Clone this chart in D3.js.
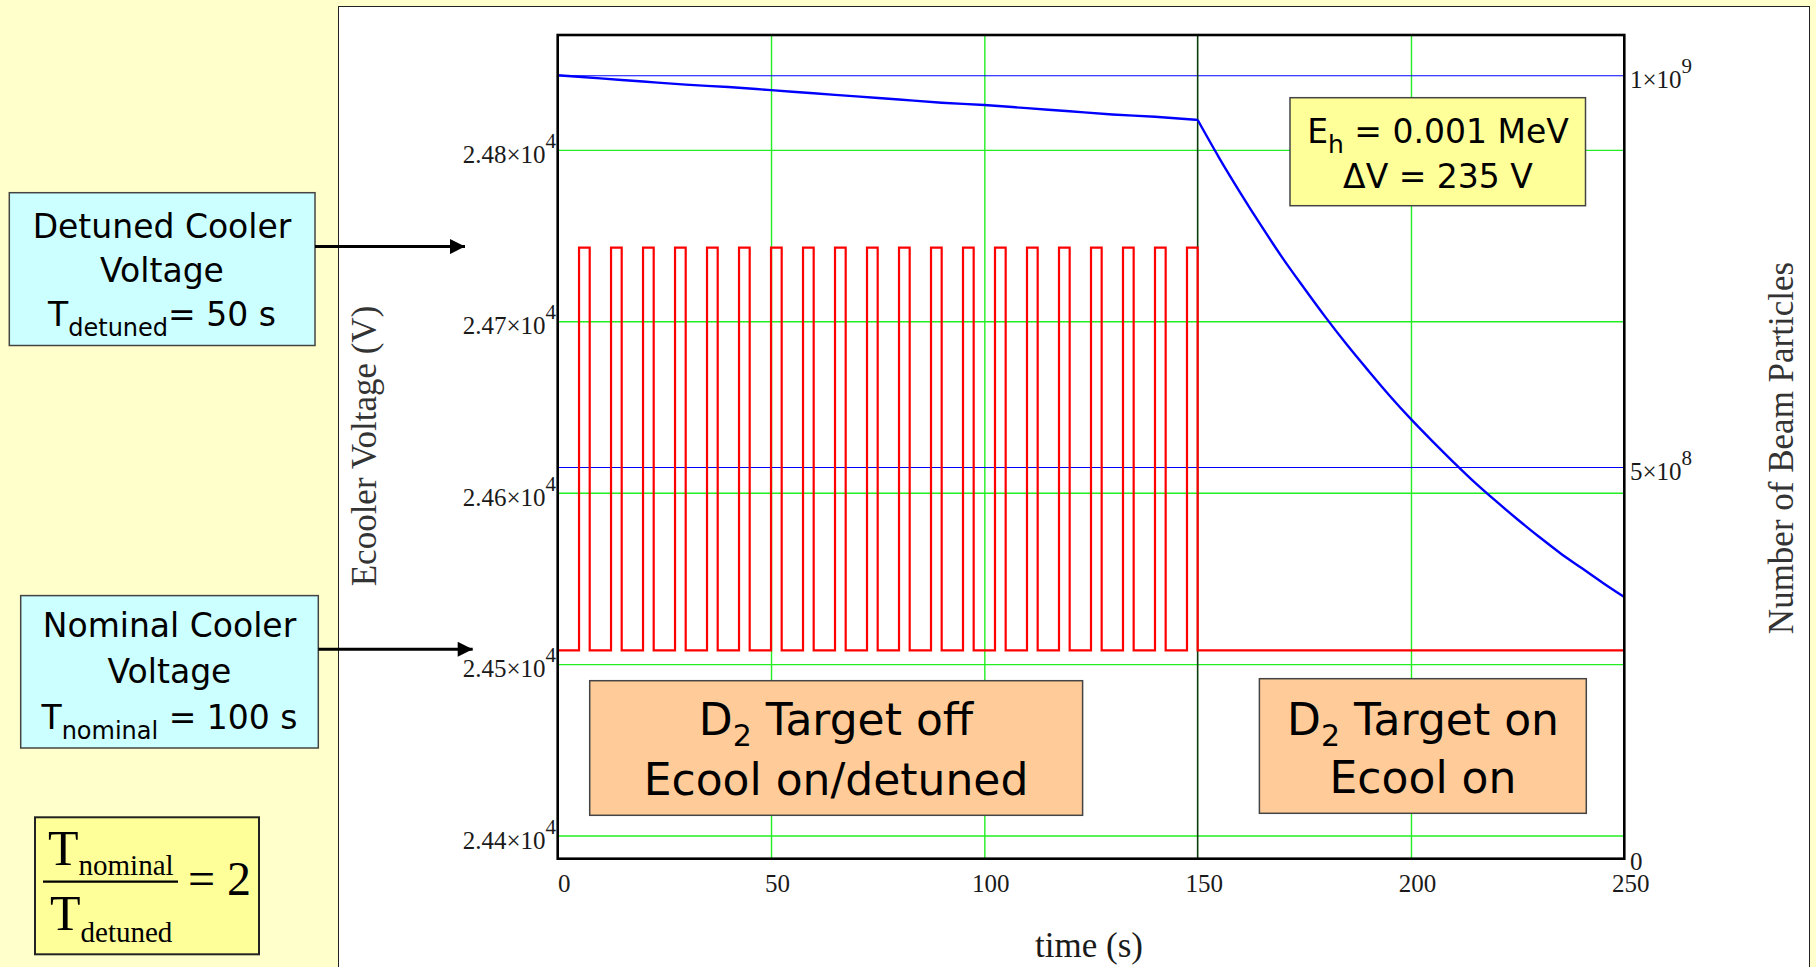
<!DOCTYPE html>
<html>
<head>
<meta charset="utf-8">
<script src="https://cdn.jsdelivr.net/npm/d3@7"></script>
<style>
  body { margin: 0; background: #ffffcc; }
  svg { display: block; }
  .serif { font-family: "Liberation Serif", "Times New Roman", serif; fill: #1a1a1a; }
  .comic { font-family: "Comic Sans MS", "DejaVu Sans", sans-serif; fill: #000; }
</style>
</head>
<body>
<svg id="chart" width="1816" height="967"></svg>
<script>
// ---- data ----
const timeTicks = [0, 50, 100, 150, 200, 250];          // s
const voltTicks = [24400, 24500, 24600, 24700, 24800];  // V
const beamTicks = [0, 5e8, 1e9];
const beamTickMant = ["0", "5×10", "1×10"];
const beamTickExp = ["", "8", "9"];

const vNominal = 24508;   // nominal cooler voltage
const vDetuned = 24743;   // detuned cooler voltage (dV = 235 V)
const targetOnTime = 150; // D2 target switched on

// detuned windows (s)
const pulseStart = [5, 12.5, 20, 27.5, 35, 42.5, 50, 57.5, 65, 72.5, 80, 87.5, 95, 102.5, 110, 117.5, 125, 132.5, 140, 147.5];
const pulseEnd = [7.5, 15, 22.5, 30, 37.5, 45, 52.5, 60, 67.5, 75, 82.5, 90, 97.5, 105, 112.5, 120, 127.5, 135, 142.5, 150];

// number of beam particles
const beamTime = [0, 10, 20, 30, 40, 50, 60, 70, 80, 90, 100, 110, 120, 130, 140, 150,
                  155, 160, 165, 170, 175, 180, 185, 190, 195, 200, 205, 210, 215, 220, 225, 230, 235, 240, 245, 250];
const beamCount = [1.000e9, 0.996e9, 0.992e9, 0.988e9, 0.985e9, 0.981e9, 0.977e9, 0.973e9, 0.969e9, 0.965e9,
                   0.962e9, 0.958e9, 0.954e9, 0.950e9, 0.947e9, 0.943e9,
                   0.895e9, 0.850e9, 0.807e9, 0.766e9, 0.728e9, 0.691e9, 0.656e9, 0.623e9, 0.591e9, 0.561e9,
                   0.533e9, 0.506e9, 0.480e9, 0.456e9, 0.433e9, 0.411e9, 0.390e9, 0.371e9, 0.352e9, 0.334e9];

// ---- layout ----
const svg = d3.select("#chart");
const plot = {left: 557.7, right: 1624.3, top: 35, bottom: 858.7};

const x = d3.scaleLinear().domain([0, 250]).range([plot.left, plot.right]);
const yV = d3.scaleLinear().domain([24386.5, 24867]).range([plot.bottom, plot.top]);
const yN = d3.scaleLinear().domain([0, 1.0514e9]).range([plot.bottom, plot.top]);

// white chart panel
svg.append("rect")
    .attr("x", 338.5).attr("y", 6.5)
    .attr("width", 1471).attr("height", 980)
    .attr("fill", "#fff").attr("stroke", "#222").attr("stroke-width", 1);

drawGrid();
drawNotes();
drawSeries();
drawFrameAndLabels();
drawSideBoxes();

function drawGrid() {
    const w = plot.right - plot.left, h = plot.bottom - plot.top;

    const gx = svg.append("g")
        .attr("transform", `translate(0,${plot.bottom})`)
        .call(d3.axisBottom(x).tickValues(timeTicks.filter(t => t > 0 && t < 250 && t !== targetOnTime))
            .tickSize(-h).tickFormat(""));
    const gy = svg.append("g")
        .attr("transform", `translate(${plot.left},0)`)
        .call(d3.axisLeft(yV).tickValues(voltTicks).tickSize(-w).tickFormat(""));
    [gx, gy].forEach(g => {
        g.select(".domain").remove();
        g.selectAll("line").attr("stroke", "#22ee22").attr("stroke-width", 1.4);
    });

    // right axis grid (beam particles) in blue
    const gn = svg.append("g")
        .attr("transform", `translate(${plot.right},0)`)
        .call(d3.axisRight(yN).tickValues(beamTicks.filter(v => v > 0)).tickSize(-w).tickFormat(""));
    gn.select(".domain").remove();
    gn.selectAll("line").attr("stroke", "#0000ff").attr("stroke-width", 1.2);
}

function drawSeries() {
    // target-on marker
    svg.append("line")
        .attr("x1", x(targetOnTime)).attr("x2", x(targetOnTime))
        .attr("y1", plot.top).attr("y2", plot.bottom)
        .attr("stroke", "#0b3d0b").attr("stroke-width", 1.6);

    // cooler voltage square wave
    let redPts = [[0, vNominal]];
    pulseStart.forEach(function(s, i) {
        redPts.push([s, vNominal], [s, vDetuned], [pulseEnd[i], vDetuned], [pulseEnd[i], vNominal]);
    });
    redPts.push([250, vNominal]);

    svg.append("path")
        .datum(redPts)
        .attr("fill", "none")
        .attr("stroke", "#ff0000")
        .attr("stroke-width", 2.2)
        .attr("d", d3.line().x(d => x(d[0])).y(d => yV(d[1])));

    // beam particles, split where the target comes on
    const beam = beamTime.map((t, i) => [t, beamCount[i]]);
    const line = d3.line().x(d => x(d[0])).y(d => yN(d[1])).curve(d3.curveMonotoneX);
    [beam.filter(d => d[0] <= targetOnTime), beam.filter(d => d[0] >= targetOnTime)].forEach(function(part) {
        svg.append("path")
            .datum(part)
            .attr("fill", "none")
            .attr("stroke", "#0000ff")
            .attr("stroke-width", 2.4)
            .attr("d", line);
    });
}

function drawFrameAndLabels() {
    svg.append("rect")
        .attr("x", plot.left).attr("y", plot.top)
        .attr("width", plot.right - plot.left).attr("height", plot.bottom - plot.top)
        .attr("fill", "none").attr("stroke", "#000").attr("stroke-width", 2.6);

    // x tick labels
    svg.append("g").selectAll("text")
        .data(timeTicks)
        .enter().append("text")
        .attr("class", "serif")
        .attr("x", d => x(d) + 6.5)
        .attr("y", 892)
        .attr("text-anchor", "middle")
        .style("font-size", "25px")
        .text(d => d);

    // left tick labels  2.44x10^4 ...
    const lt = svg.append("g").selectAll("text")
        .data(voltTicks)
        .enter().append("text")
        .attr("class", "serif")
        .attr("text-anchor", "end")
        .attr("x", 556)
        .attr("y", d => yV(d) + 13)
        .style("font-size", "25px");
    lt.append("tspan").text(d => (d / 1e4).toFixed(2) + "×10");
    lt.append("tspan").attr("dy", -15).style("font-size", "21px").text("4");

    // right tick labels
    const rt = svg.append("g").selectAll("text")
        .data(beamTicks)
        .enter().append("text")
        .attr("class", "serif")
        .attr("x", 1630)
        .attr("y", d => d === 0 ? yN(d) + 11 : yN(d) + 13)
        .style("font-size", "25px");
    rt.append("tspan").text((d, i) => beamTickMant[i]);
    rt.append("tspan").attr("dy", -15).style("font-size", "21px").text((d, i) => beamTickExp[i]);

    // axis titles
    svg.append("text").attr("class", "serif")
        .attr("x", 1089).attr("y", 957)
        .attr("text-anchor", "middle")
        .style("font-size", "35px")
        .text("time (s)");
    svg.append("text").attr("class", "serif")
        .attr("transform", "translate(376,446) rotate(-90)")
        .attr("text-anchor", "middle")
        .style("font-size", "35px").style("fill", "#333")
        .text("Ecooler Voltage (V)");
    svg.append("text").attr("class", "serif")
        .attr("transform", "translate(1793,448) rotate(-90)")
        .attr("text-anchor", "middle")
        .style("font-size", "35px").style("fill", "#333")
        .text("Number of Beam Particles");
}

// text box helper: each line is {text, sub, rest, y}
function noteBox(x0, y0, x1, y1, fill, cx, lines, size, subSize, subShift) {
    svg.append("rect")
        .attr("x", x0).attr("y", y0)
        .attr("width", x1 - x0).attr("height", y1 - y0)
        .attr("fill", fill).attr("stroke", "#444").attr("stroke-width", 1.5);
    lines.forEach(function(l) {
        const t = svg.append("text").attr("class", "comic")
            .attr("x", cx).attr("y", l.y)
            .attr("text-anchor", "middle")
            .style("font-size", size + "px");
        t.append("tspan").text(l.text);
        if (l.sub) {
            t.append("tspan").attr("dy", subShift).style("font-size", subSize + "px").text(l.sub);
            t.append("tspan").attr("dy", -subShift).text(l.rest);
        }
    });
}

function drawNotes() {
    noteBox(589.7, 680.7, 1082.6, 815.3, "#ffcc99", 836,
        [{text: "D", sub: "2", rest: " Target off", y: 735}, {text: "Ecool on/detuned", y: 795}], 44, 30, 11);
    noteBox(1259.4, 678.7, 1586.3, 813.3, "#ffcc99", 1423,
        [{text: "D", sub: "2", rest: " Target on", y: 735}, {text: "Ecool on", y: 793}], 44, 30, 11);
    noteBox(1290, 97.7, 1585.5, 205.7, "#ffff99", 1438,
        [{text: "E", sub: "h", rest: " = 0.001 MeV", y: 143}, {text: "ΔV = 235 V", y: 188}], 33, 25, 10);
}

function drawSideBoxes() {
    noteBox(9.3, 192.7, 315, 345.5, "#ccffff", 162,
        [{text: "Detuned Cooler", y: 238}, {text: "Voltage", y: 282},
         {text: "T", sub: "detuned", rest: "= 50 s", y: 326}], 33, 24, 10);
    noteBox(20.7, 595.6, 318.3, 748, "#ccffff", 169.5,
        [{text: "Nominal Cooler", y: 637}, {text: "Voltage", y: 683},
         {text: "T", sub: "nominal", rest: " = 100 s", y: 729}], 33, 24, 10);

    // arrows into the plot
    svg.append("defs").append("marker")
        .attr("id", "head")
        .attr("viewBox", "0 0 10 10").attr("refX", 10).attr("refY", 5)
        .attr("markerWidth", 16).attr("markerHeight", 15)
        .attr("markerUnits", "userSpaceOnUse")
        .attr("orient", "auto")
        .append("path").attr("d", "M0,0L10,5L0,10Z").attr("fill", "#000");
    [[315, 465, 246.6], [318.3, 472.7, 649.3]].forEach(function(a) {
        svg.append("line")
            .attr("x1", a[0]).attr("x2", a[1]).attr("y1", a[2]).attr("y2", a[2])
            .attr("stroke", "#000").attr("stroke-width", 3)
            .attr("marker-end", "url(#head)");
    });

    // ratio box
    svg.append("rect")
        .attr("x", 35).attr("y", 817.3).attr("width", 224).attr("height", 137)
        .attr("fill", "#ffff99").attr("stroke", "#222").attr("stroke-width", 2);
    const num = svg.append("text").attr("class", "serif").attr("x", 48).attr("y", 865)
        .style("font-size", "50px").style("fill", "#000");
    num.append("tspan").text("T");
    num.append("tspan").attr("dy", 10).style("font-size", "29px").text("nominal");
    svg.append("line").attr("x1", 43).attr("x2", 178).attr("y1", 881.7).attr("y2", 881.7)
        .attr("stroke", "#000").attr("stroke-width", 2.2);
    const den = svg.append("text").attr("class", "serif").attr("x", 50).attr("y", 930)
        .style("font-size", "50px").style("fill", "#000");
    den.append("tspan").text("T");
    den.append("tspan").attr("dy", 12).style("font-size", "29px").text("detuned");
    svg.append("text").attr("class", "serif").attr("x", 188).attr("y", 895)
        .style("font-size", "48px").style("fill", "#000")
        .text("= 2");
}
</script>
</body>
</html>
